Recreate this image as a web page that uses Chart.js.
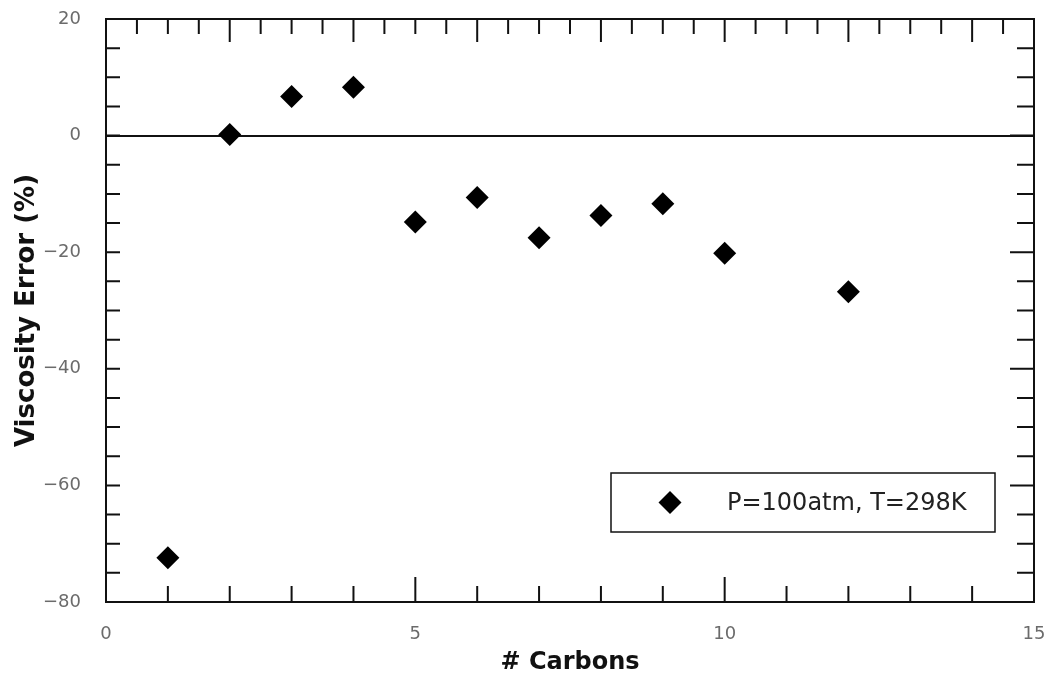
<!DOCTYPE html>
<html>
<head>
<meta charset="utf-8">
<script src="https://cdn.jsdelivr.net/npm/chart.js@4.4.0/dist/chart.umd.min.js"></script>
<style>
    html, body { margin: 0; padding: 0; background: #fff; }
    #wrap { width: 1048px; height: 674px; }
</style>
</head>
<body>
<div id="wrap"><canvas id="viscosityChart" width="1048" height="674"></canvas></div>
<script>
// data
const carbons = [1, 2, 3, 4, 5, 6, 7, 8, 9, 10, 12];
const viscosityError = [-72.4, 0.2, 6.7, 8.3, -14.8, -10.6, -17.5, -13.7, -11.7, -20.2, -26.8];
const xTickLabels = [0, 5, 10, 15];
const yTickLabels = [20, 0, -20, -40, -60, -80];
const seriesLabel = 'P=100atm, T=298K';

const FONT = "'DejaVu Sans', Verdana, sans-serif";

// frame, inward tick marks and the legend box
const frameAndLegend = {
    id: 'frameAndLegend',
    afterDatasetsDraw(chart) {
        const { ctx, chartArea: a, scales: { x, y } } = chart;
        ctx.save();
        ctx.strokeStyle = '#111';
        ctx.lineWidth = 2;
        ctx.beginPath();
        // bottom: every 1, long every 5
        for (let v = 1; v < 15; v++) {
            const px = x.getPixelForValue(v);
            const len = v % 5 === 0 ? 25 : 16;
            ctx.moveTo(px, a.bottom);
            ctx.lineTo(px, a.bottom - len);
        }
        // top: every 0.5, long every 2
        for (let v = 0.5; v < 15; v += 0.5) {
            const px = x.getPixelForValue(v);
            const len = v % 2 === 0 ? 23 : 15;
            ctx.moveTo(px, a.top);
            ctx.lineTo(px, a.top + len);
        }
        // left / right: every 5
        for (let v = -75; v < 20; v += 5) {
            const py = y.getPixelForValue(v);
            ctx.moveTo(a.left, py);
            ctx.lineTo(a.left + 14, py);
            const len = v % 20 === 0 ? 24 : 17;
            ctx.moveTo(a.right, py);
            ctx.lineTo(a.right - len, py);
        }
        ctx.stroke();
        ctx.strokeRect(a.left, a.top, a.right - a.left, a.bottom - a.top);

        // legend
        const bw = 384, bh = 59;
        const bx = a.right - 39 - bw;
        const by = a.bottom - 70 - bh;
        ctx.fillStyle = '#fff';
        ctx.fillRect(bx, by, bw, bh);
        ctx.lineWidth = 1.5;
        ctx.strokeRect(bx, by, bw, bh);
        const ds = chart.data.datasets[0];
        const cy = by + bh / 2;
        Chart.helpers.drawPoint(ctx, {
            pointStyle: ds.pointStyle, radius: ds.pointRadius, borderWidth: 0, rotation: 0
        }, bx + 59, cy);
        ctx.fillStyle = '#000';
        ctx.fill();
        ctx.fillStyle = '#222';
        ctx.font = '24px ' + FONT;
        ctx.textBaseline = 'middle';
        ctx.textAlign = 'left';
        ctx.fillText(ds.label, bx + 116, cy + 1);
        ctx.restore();
    }
};

const ctx = document.getElementById('viscosityChart').getContext('2d');
const chart = new Chart(ctx, {
    type: 'scatter',
    data: {
        datasets: [{
            label: seriesLabel,
            data: carbons.map((c, i) => ({ x: c, y: viscosityError[i] })),
            pointStyle: 'rectRot',
            pointRadius: 11.5,
            pointHoverRadius: 11.5,
            backgroundColor: '#000',
            borderWidth: 0
        }]
    },
    options: {
        responsive: false,
        animation: false,
        layout: { autoPadding: false, padding: { top: 19, right: 14, left: 0, bottom: 0 } },
        plugins: {
            legend: { display: false },
            tooltip: { enabled: false }
        },
        scales: {
            x: {
                type: 'linear',
                min: 0,
                max: 15,
                afterFit: (s) => {
                    s.height = 72;
                    s.paddingLeft = 0;
                    s.paddingRight = 0;
                },
                border: { display: false },
                grid: { display: false, drawTicks: false },
                afterBuildTicks: (s) => { s.ticks = xTickLabels.map(v => ({ value: v })); },
                ticks: {
                    padding: 22,
                    color: '#6b6b6b',
                    font: { family: FONT, size: 18 },
                    maxRotation: 0
                },
                title: {
                    display: true,
                    text: '# Carbons',
                    color: '#111',
                    font: { family: FONT, size: 24, weight: 'bold', lineHeight: 0.9 },
                    padding: { top: 0, bottom: 0 }
                }
            },
            y: {
                type: 'linear',
                min: -80,
                max: 20,
                afterFit: (s) => {
                    s.width = 106;
                    s.paddingTop = 0;
                    s.paddingBottom = 0;
                },
                border: { display: false },
                afterBuildTicks: (s) => {
                    const t = [];
                    for (let v = -80; v <= 20; v += 5) t.push({ value: v });
                    s.ticks = t;
                },
                grid: {
                    drawTicks: false,
                    lineWidth: 2,
                    color: (c) => (c.tick && c.tick.value === 0 ? '#111' : 'rgba(0,0,0,0)')
                },
                ticks: {
                    padding: 25,
                    color: '#6b6b6b',
                    font: { family: FONT, size: 18 },
                    callback: (v) => (yTickLabels.includes(v) ? String(v).replace('-', '\u2212') : '')
                },
                title: {
                    display: true,
                    text: 'Viscosity Error (%)',
                    color: '#111',
                    font: { family: FONT, size: 26, weight: 'bold', lineHeight: 1.2 },
                    padding: { top: 12, bottom: 0 }
                }
            }
        }
    },
    plugins: [frameAndLegend]
});
</script>
</body>
</html>
